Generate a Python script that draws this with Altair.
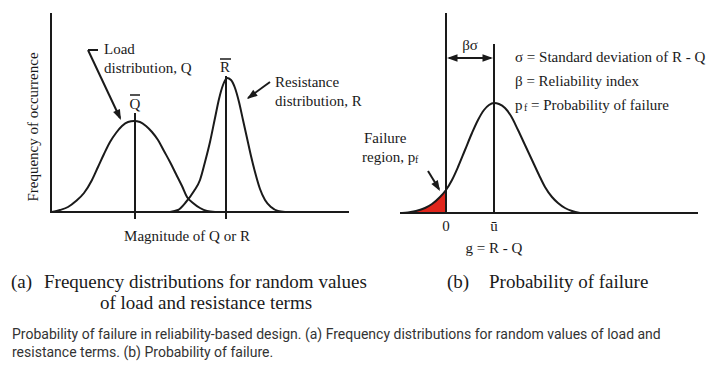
import math
import altair as alt
import pandas as pd

# ---- curve samples (figure pixel units) ----
q_x = [52, 60, 68, 76, 84, 92, 98, 104, 110, 116, 122, 128, 134, 140, 146, 152, 158, 164, 170, 176, 182, 187, 193, 200, 207, 215]
q_y = [212, 210, 207, 201, 193, 180, 167, 154, 142, 133, 126, 122, 121, 122, 126, 132, 140, 151, 162, 174, 186, 197, 203, 208, 211, 212]

r_x = [170, 178, 186, 194, 200, 205, 210, 215, 219, 223, 227, 231, 235, 239, 243, 247, 251, 255, 260, 265, 271, 278, 285]
r_y = [212, 210, 202, 191, 180, 162, 142, 118, 99, 85, 78, 80, 88, 102, 120, 138, 156, 172, 189, 200, 207, 211, 212]

g_x = [402, 408, 416, 425, 432, 440, 446, 452, 458, 465, 472, 478, 484, 489, 494, 499, 505, 511, 518, 525, 532, 539, 545, 552, 558, 565, 572, 580]
g_y = [213, 212.5, 211, 208, 204, 197, 190, 180, 167, 150, 133, 120, 110, 105, 103, 104, 108, 116, 130, 145, 160, 175, 187, 197, 203, 208, 211, 213]

# ---- straight segments: axes, mean lines, arrow shafts ----
seg_x1 = [51, 51, 135, 226, 400, 446, 494, 88, 88, 270, 428, 449]
seg_y1 = [13, 212, 113, 76, 213, 13, 44, 50, 50, 82, 171, 58]
seg_x2 = [51, 349, 135, 226, 698, 446, 494, 98, 120, 248, 439, 491]
seg_y2 = [213, 212, 219, 219, 213, 213, 213, 50, 118, 98, 189, 58]

# overbars over Q, R
bar_x1 = [130, 220]
bar_x2 = [140, 231]
bar_y = [95, 59]

# arrow heads (tip position and the point each arrow comes from)
head_x = [121, 247, 440, 447, 493]
head_y = [120, 99, 191, 58, 58]
head_from_x = [88, 270, 428, 494, 446]
head_from_y = [50, 82, 171, 58, 58]

# ---- texts ----
lab_text = ["Load", "distribution, Q", "Resistance", "distribution, R", "Failure", "region, p",
            "σ = Standard deviation of R - Q", "β = Reliability index", "p", "= Probability of failure"]
lab_x = [104, 104, 275, 275, 364, 362, 515, 515, 515, 531]
lab_y = [49, 68, 82, 101, 138, 157, 57, 81, 105, 105]

sub_text = ["f", "f"]
sub_x = [415, 524]
sub_y = [160, 108]

ctr_text = ["Q", "R", "βσ", "0", "ū", "g = R - Q", "Magnitude of Q or R"]
ctr_x = [135, 225, 470, 446, 494, 494, 187]
ctr_y = [104, 67, 45, 226, 226, 248, 236]

title_text = ["(a)", "Frequency distributions for random values", "of load and resistance terms",
              "(b)", "Probability of failure"]
title_x = [11, 44, 100, 447, 489]
title_y = [282, 282, 303, 282, 282]

caption_text = ["Probability of failure in reliability-based design. (a) Frequency distributions for random values of load and",
                "resistance terms. (b) Probability of failure."]
caption_x = [12, 12]
caption_y = [335, 353]

INK = "#1a1a1a"
SERIF = "Liberation Serif"

xs = alt.Scale(domain=[8, 711], nice=False, zero=False)
ys = alt.Scale(domain=[8, 363], nice=False, zero=False, reverse=True)
X = alt.X("x:Q", scale=xs, axis=None)
Y = alt.Y("y:Q", scale=ys, axis=None)

curves = pd.DataFrame(
    [{"x": a, "y": b, "c": "Q", "o": i} for i, (a, b) in enumerate(zip(q_x, q_y))]
    + [{"x": a, "y": b, "c": "R", "o": i} for i, (a, b) in enumerate(zip(r_x, r_y))]
    + [{"x": a, "y": b, "c": "g", "o": i} for i, (a, b) in enumerate(zip(g_x, g_y))]
)
fail = pd.DataFrame([{"x": a, "y": b, "y2": 213} for a, b in zip(g_x, g_y) if a <= 446])

segs = pd.DataFrame({"x": seg_x1, "y": seg_y1, "x2": seg_x2, "y2": seg_y2})
bars = pd.DataFrame({"x": bar_x1, "x2": bar_x2, "y": bar_y})

heads = pd.DataFrame({
    "x": head_x, "y": head_y,
    "a": [(math.degrees(math.atan2(tx - fx, -(ty - fy)))) % 360
          for tx, ty, fx, fy in zip(head_x, head_y, head_from_x, head_from_y)],
})

area = alt.Chart(fail).mark_area(color="#e0261c", opacity=1, orient="vertical", interpolate="monotone").encode(
    x=alt.X("x:Q", scale=xs, axis=None),
    y=alt.Y("y:Q", scale=ys, axis=None, stack=None),
    y2="y2:Q",
)
lines = alt.Chart(curves).mark_line(color=INK, strokeWidth=2, interpolate="monotone").encode(
    x=X, y=Y, detail="c:N", order="o:Q")
rules = alt.Chart(segs).mark_rule(color=INK, strokeWidth=2).encode(x=X, y=Y, x2="x2:Q", y2="y2:Q")
overbars = alt.Chart(bars).mark_rule(color=INK, strokeWidth=1.5).encode(x=X, x2="x2:Q", y=Y)
arrowheads = alt.Chart(heads).mark_point(
    shape="M0,0L-0.75,2.1L0.75,2.1Z", filled=True, color=INK, opacity=1, size=100
).encode(x=X, y=Y, angle=alt.Angle("a:Q", scale=None))

labels = alt.Chart(pd.DataFrame({"x": lab_x, "y": lab_y, "t": lab_text})).mark_text(
    font=SERIF, fontSize=15, align="left", baseline="middle", color=INK).encode(x=X, y=Y, text="t:N")
subs = alt.Chart(pd.DataFrame({"x": sub_x, "y": sub_y, "t": sub_text})).mark_text(
    font=SERIF, fontSize=10, align="left", baseline="middle", color=INK).encode(x=X, y=Y, text="t:N")
centered = alt.Chart(pd.DataFrame({"x": ctr_x, "y": ctr_y, "t": ctr_text})).mark_text(
    font=SERIF, fontSize=15, align="center", baseline="middle", color=INK).encode(x=X, y=Y, text="t:N")
ylab = alt.Chart(pd.DataFrame({"x": [33], "y": [127], "t": ["Frequency of occurrence"]})).mark_text(
    font=SERIF, fontSize=15, align="center", baseline="middle", angle=270, color=INK).encode(x=X, y=Y, text="t:N")
titles = alt.Chart(pd.DataFrame({"x": title_x, "y": title_y, "t": title_text})).mark_text(
    font=SERIF, fontSize=19, align="left", baseline="middle", color=INK).encode(x=X, y=Y, text="t:N")
caption = alt.Chart(pd.DataFrame({"x": caption_x, "y": caption_y, "t": caption_text})).mark_text(
    font="Roboto", fontSize=14, align="left", baseline="middle", color="#333333").encode(x=X, y=Y, text="t:N")

chart = alt.layer(
    area, lines, rules, overbars, arrowheads, labels, subs, centered, ylab, titles, caption
).properties(
    width=703, height=355, autosize="none", padding=0, background="white"
).configure_view(stroke=None)

chart.save("out.html", embed_options={"renderer": "svg", "actions": False})
